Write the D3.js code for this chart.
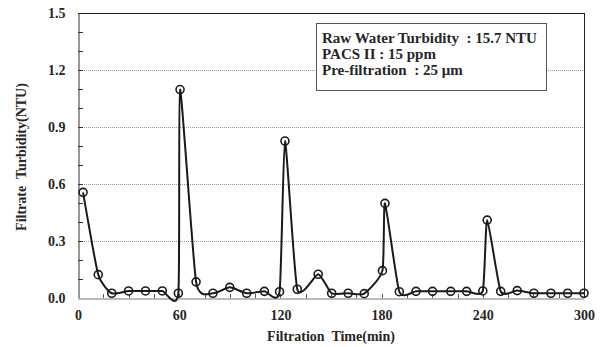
<!DOCTYPE html>
<html><head><meta charset="utf-8">
<script src="https://cdn.jsdelivr.net/npm/d3@7"></script>
<style>body{margin:0;background:#fff}svg{display:block}</style>
</head><body><svg id="c" width="601" height="347"></svg>
<script>
const times = [3,12,20,30,40,50,59.5,60.5,70,80,90,100,110.5,119.5,122.7,130,142.4,150.4,160.2,169.7,180.5,182,190.5,200.4,210.2,221,230.4,240,242.6,250.6,260.4,270.3,280.4,290.3,300];
const turbidity = [0.556,0.123,0.025,0.037,0.037,0.037,0.025,1.097,0.085,0.025,0.056,0.025,0.035,0.033,0.826,0.046,0.125,0.025,0.025,0.023,0.144,0.498,0.033,0.035,0.035,0.035,0.035,0.037,0.41,0.035,0.039,0.025,0.025,0.025,0.025];
const xTicks = [0,60,120,180,240,300];
const yTicks = [0.0,0.3,0.6,0.9,1.2,1.5];
const legendLines = ["Raw Water Turbidity  : 15.7 NTU","PACS II : 15 ppm","Pre-filtration  : 25 \u03bcm"];

const FONT = "'Liberation Serif', 'Times New Roman', serif";
const svg = d3.select("#c");
const L=78,R=584,T=13,B=298;
const x = d3.scaleLinear().domain([0,300]).range([L,R]);
const y = d3.scaleLinear().domain([0,1.5]).range([B,T]);
function styleText(sel,size){ sel.attr("font-family",null).style("font-family",FONT).style("font-weight","bold").style("font-size",size+"px").attr("fill","#262626"); return sel; }

// grid
svg.append("g").selectAll("line").data(yTicks.filter(v=>v>0&&v<1.5)).join("line")
  .attr("x1",L).attr("x2",R).attr("y1",d=>Math.round(y(d))+0.5).attr("y2",d=>Math.round(y(d))+0.5)
  .attr("stroke","#999").attr("stroke-dasharray","1,1").attr("stroke-width",1);

// frame top/right
svg.append("line").attr("x1",L).attr("x2",R).attr("y1",T+0.5).attr("y2",T+0.5).attr("stroke","#222");
svg.append("line").attr("x1",R+0.5).attr("x2",R+0.5).attr("y1",T).attr("y2",B).attr("stroke","#222");

// y axis
const yAx = d3.axisLeft(y).tickValues(yTicks).tickFormat(d3.format(".1f")).tickSize(0).tickPadding(13);
const gy = svg.append("g").attr("transform",`translate(${L+0.5},0)`).call(yAx);
gy.attr("font-family",null);
gy.select(".domain").attr("stroke","#333");
styleText(gy.selectAll("text"),14);
svg.append("g").selectAll("line").data(d3.range(1,15).map(i=>i/10)).join("line")
  .attr("x1",L).attr("x2",L+5).attr("y1",d=>Math.round(y(d))+0.5).attr("y2",d=>Math.round(y(d))+0.5).attr("stroke","#333");

// x axis
const xAx = d3.axisBottom(x).tickValues(xTicks).tickSize(0).tickPadding(12);
const gx = svg.append("g").attr("transform",`translate(0,${B+0.5})`).call(xAx);
gx.attr("font-family",null);
gx.select(".domain").attr("stroke","#777");
styleText(gx.selectAll("text"),14);
svg.append("g").selectAll("line").data(d3.range(15,300,15)).join("line")
  .attr("x1",d=>Math.round(x(d))+0.5).attr("x2",d=>Math.round(x(d))+0.5).attr("y1",B).attr("y2",B-4).attr("stroke","#555");

// titles
styleText(svg.append("text").attr("x",331).attr("y",341).attr("text-anchor","middle")
  .attr("xml:space","preserve").text("Filtration  Time(min)"),14);
styleText(svg.append("text").attr("transform","translate(26,157) rotate(-90)").attr("text-anchor","middle")
  .attr("xml:space","preserve").text("Filtrate  Turbidity(NTU)"),14);

// line
const pts = times.map((t,i)=>[t,turbidity[i]]);
svg.append("path").datum(pts).attr("fill","none").attr("stroke","#1a1a1a").attr("stroke-width",2)
  .attr("d",d3.line().x(d=>x(d[0])).y(d=>y(d[1])).curve(d3.curveCardinal.tension(0.45)));
svg.append("g").selectAll("circle").data(pts).join("circle")
  .attr("cx",d=>x(d[0])).attr("cy",d=>y(d[1])).attr("r",4)
  .attr("fill","none").attr("stroke","#1a1a1a").attr("stroke-width",1.6);

// legend
svg.append("rect").attr("x",316.5).attr("y",23.5).attr("width",230).attr("height",67)
  .attr("fill","#fff").attr("stroke","#555").attr("stroke-width",1);
styleText(svg.append("g").selectAll("text").data(legendLines).join("text")
  .attr("x",322).attr("y",(d,i)=>43+i*16).attr("xml:space","preserve").text(d=>d),15);
</script></body></html>
